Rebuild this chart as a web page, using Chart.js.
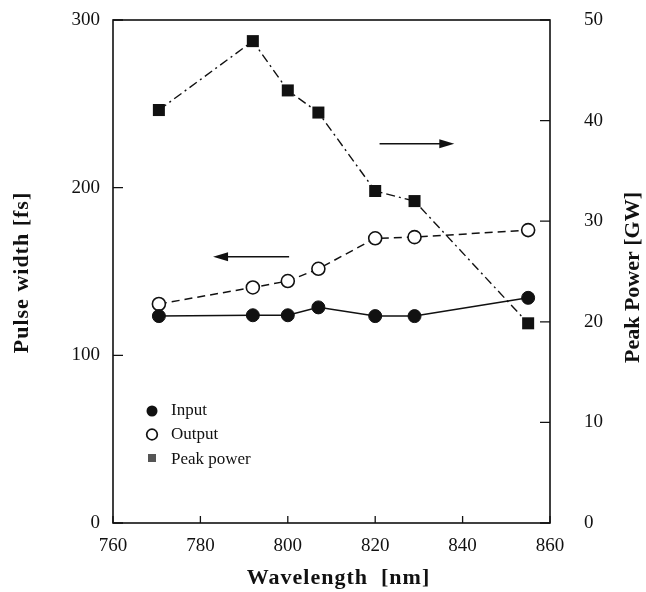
<!DOCTYPE html>
<html>
<head>
<meta charset="utf-8">
<script src="https://cdn.jsdelivr.net/npm/chart.js@4"></script>
<style>
html,body{margin:0;padding:0;background:#fff;}
#wrap{width:646px;height:592px;position:relative;}
</style>
</head>
<body>
<div id="wrap"><canvas id="c" width="646" height="592"></canvas></div>
<script>
const wavelengths = [770.5, 792, 800, 807, 820, 829, 855];
const inputWidth  = [123.4, 123.9, 123.9, 128.6, 123.4, 123.4, 134.3];
const outputWidth = [130.6, 140.5, 144.3, 151.6, 169.8, 170.5, 174.7];
const peakPower   = [41.05, 47.9, 43.0, 40.8, 33.0, 32.0, 19.85];
const xTicks  = [760, 780, 800, 820, 840, 860];
const yTicks  = [0, 100, 200, 300];
const y2Ticks = [0, 10, 20, 30, 40, 50];
const legendLabels = ['Input', 'Output', 'Peak power'];
const xTitle = 'Wavelength  [nm]';
const yTitle = 'Pulse width [fs]';
const y2Title = 'Peak Power [GW]';
// arrows in data units: [x0, x1, y, axis]
const arrowLeft  = [800.3, 782.9, 158.8, 'y'];
const arrowRight = [821.0, 838.1, 37.7, 'y2'];

const pts = (ys) => wavelengths.map((x, i) => ({x: x, y: ys[i]}));
const FONT = "'Liberation Serif', 'DejaVu Serif', serif";

const framePlugin = {
  id: 'frame',
  afterDatasetsDraw(chart) {
    const ctx = chart.ctx, a = chart.chartArea;
    const sx = chart.scales.x, sy = chart.scales.y, sy2 = chart.scales.y2;
    ctx.save();
    ctx.strokeStyle = '#111';
    ctx.lineWidth = 1.6;
    ctx.strokeRect(a.left, a.top, a.right - a.left, a.bottom - a.top);
    ctx.lineWidth = 1.3;
    ctx.beginPath();
    xTicks.forEach(v => { const p = sx.getPixelForValue(v); ctx.moveTo(p, a.bottom); ctx.lineTo(p, a.bottom - 7); });
    yTicks.forEach(v => { const p = sy.getPixelForValue(v); ctx.moveTo(a.left, p); ctx.lineTo(a.left + 10, p); });
    y2Ticks.forEach(v => { const p = sy2.getPixelForValue(v); ctx.moveTo(a.right, p); ctx.lineTo(a.right - 10, p); });
    ctx.stroke();

    // arrows
    [arrowLeft, arrowRight].forEach(ar => {
      const x0 = sx.getPixelForValue(ar[0]), x1 = sx.getPixelForValue(ar[1]);
      const y = chart.scales[ar[3]].getPixelForValue(ar[2]);
      const dir = Math.sign(x1 - x0);
      ctx.lineWidth = 1.6;
      ctx.beginPath(); ctx.moveTo(x0, y); ctx.lineTo(x1 - dir * 10, y); ctx.stroke();
      ctx.fillStyle = '#111';
      ctx.beginPath();
      ctx.moveTo(x1, y); ctx.lineTo(x1 - dir * 15, y - 4.5); ctx.lineTo(x1 - dir * 15, y + 4.5); ctx.closePath(); ctx.fill();
    });

    // legend
    const lx = a.left + 39, ly = sy.getPixelForValue(0) - 112;
    const gap = 23.5;
    ctx.font = '17px ' + FONT;
    ctx.textBaseline = 'middle';
    ctx.textAlign = 'left';
    ctx.fillStyle = '#111';
    ctx.beginPath(); ctx.arc(lx, ly, 5.5, 0, Math.PI * 2); ctx.fill();
    ctx.lineWidth = 1.7;
    ctx.beginPath(); ctx.arc(lx, ly + gap, 5.3, 0, Math.PI * 2); ctx.stroke();
    ctx.fillStyle = '#555';
    ctx.fillRect(lx - 4, ly + 2 * gap - 4, 8, 8);
    ctx.fillStyle = '#111';
    legendLabels.forEach((t, i) => ctx.fillText(t, lx + 19, ly + i * gap + (i === 2 ? 2 : 0)));

    // axis titles
    ctx.font = 'bold 22px ' + FONT;
    ctx.letterSpacing = '1px';
    ctx.textAlign = 'center';
    ctx.textBaseline = 'middle';
    const cy = (a.top + a.bottom) / 2;
    ctx.fillText(xTitle, (a.left + a.right) / 2 + 7, 578);
    ctx.save(); ctx.translate(22, cy + 1); ctx.rotate(-Math.PI / 2); ctx.fillText(yTitle, 0, 0); ctx.restore();
    ctx.letterSpacing = '0px';
    ctx.save(); ctx.translate(633, cy + 6); ctx.rotate(-Math.PI / 2); ctx.fillText(y2Title, 0, 0); ctx.restore();
    ctx.restore();
  }
};

const noPadV = (w) => (s) => { s.width = w; s.paddingTop = 0; s.paddingBottom = 0; };

new Chart(document.getElementById('c'), {
  type: 'scatter',
  data: {
    datasets: [
      { label: legendLabels[0], data: pts(inputWidth), yAxisID: 'y', showLine: true,
        borderColor: '#111', backgroundColor: '#111', borderWidth: 1.5,
        pointStyle: 'circle', pointRadius: 6.5, pointBorderWidth: 1 },
      { label: legendLabels[1], data: pts(outputWidth), yAxisID: 'y', showLine: true,
        borderColor: '#111', backgroundColor: '#fff', borderWidth: 1.5, borderDash: [8, 5],
        pointStyle: 'circle', pointRadius: 6.5, pointBorderWidth: 1.6 },
      { label: legendLabels[2], data: pts(peakPower), yAxisID: 'y2', showLine: true,
        borderColor: '#111', backgroundColor: '#111', borderWidth: 1.4, borderDash: [9, 4, 2, 4],
        pointStyle: 'rect', pointRadius: 8.5, pointBorderWidth: 0 }
    ]
  },
  options: {
    responsive: false,
    animation: false,
    devicePixelRatio: 1,
    layout: { padding: { top: 20, left: 0, right: 0, bottom: 0 } },
    plugins: { legend: { display: false }, tooltip: { enabled: false } },
    scales: {
      x: {
        type: 'linear', min: 760, max: 860,
        afterBuildTicks: s => { s.ticks = xTicks.map(v => ({value: v})); },
        afterFit: s => { s.height = 69; s.paddingLeft = 0; s.paddingRight = 0; },
        grid: { display: false, drawTicks: false },
        border: { display: false },
        ticks: { color: '#111', font: { family: FONT, size: 19 }, padding: 12 },
        title: { display: false }
      },
      y: {
        position: 'left', min: 0, max: 300,
        afterBuildTicks: s => { s.ticks = yTicks.map(v => ({value: v})); },
        afterFit: noPadV(113),
        grid: { display: false, drawTicks: false },
        border: { display: false },
        ticks: { color: '#111', font: { family: FONT, size: 19 }, padding: 13 },
        title: { display: false }
      },
      y2: {
        position: 'right', min: 0, max: 50,
        afterBuildTicks: s => { s.ticks = y2Ticks.map(v => ({value: v})); },
        afterFit: noPadV(96),
        grid: { display: false, drawTicks: false },
        border: { display: false },
        ticks: { color: '#111', font: { family: FONT, size: 19 }, padding: 34 },
        title: { display: false }
      }
    }
  },
  plugins: [framePlugin]
});
</script>
</body>
</html>
